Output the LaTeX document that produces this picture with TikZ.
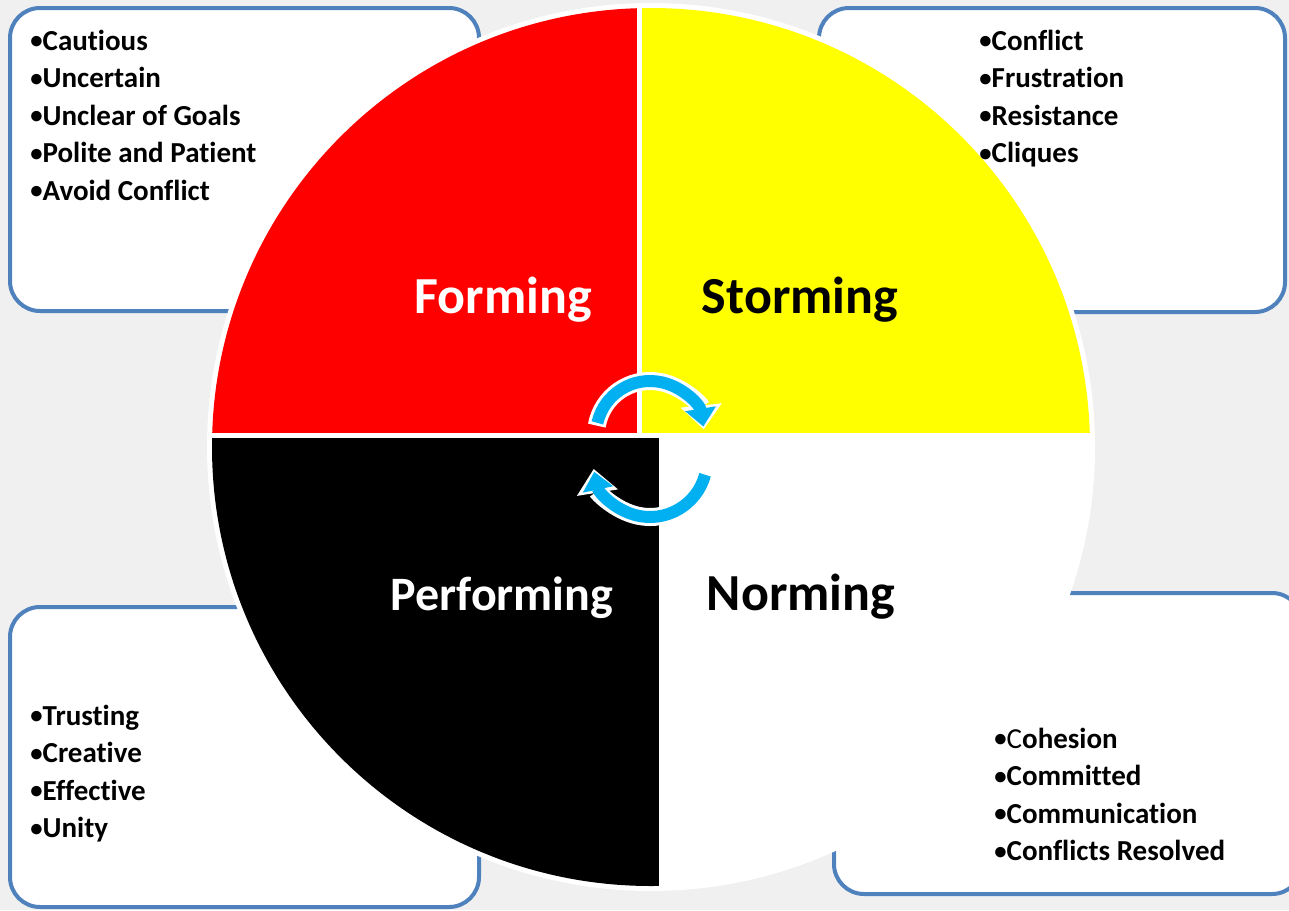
\documentclass[tikz,border=0pt]{standalone}
\usepackage{fontspec}
\setmainfont{Carlito}[Ligatures=NoCommon]
\usetikzlibrary{arrows.meta}

\definecolor{pagegray}{HTML}{F0F0F0}
\definecolor{boxblue}{HTML}{4F81BD}
\definecolor{cycleblue}{HTML}{00B0F0}
\definecolor{formred}{HTML}{FF0000}
\definecolor{stormyellow}{HTML}{FFFF00}

\newcommand\traitdot{\raisebox{0.04em}{\scalebox{0.85}{•}}}

\tikzset{
	notebox/.style={draw=boxblue, line width=2pt, fill=white, rounded corners=15pt},
	stage/.style={font=\fontsize{26}{30}\selectfont\bfseries, anchor=base, inner sep=0pt},
	trait/.style={font=\fontsize{14.5}{18}\selectfont\bfseries, anchor=base west, inner sep=0pt},
	cyclearrow/.style={cycleblue, line width=6pt, -{Triangle[length=9pt,width=15pt]}},
	cycleedge/.style={white, line width=9pt, -{Triangle[length=12pt,width=20pt]}}
}

\begin{document}
\begin{tikzpicture}[x=0.5pt, y=-0.5pt]
	\fill[pagegray] (0,0) rectangle (1289,910);
	\useasboundingbox (0,0) rectangle (1289,910);
	
	% boxes sit behind the wheel
	\draw[notebox] (10,8) rectangle (479,311);
	\draw[notebox] (819,8) rectangle (1285,312);
	\draw[notebox] (10,607) rectangle (479,907);
	\draw[notebox] (834,593) rectangle (1302,894);
	
	% wheel with white rim and white gaps
	\fill[white] (651,447) circle[radius=444];
	\begin{scope}
		\clip (651,447) circle[radius=439];
		\fill[formred] (200,0) rectangle (637,433);
		\fill[stormyellow] (642,0) rectangle (1100,433);
		\fill[black] (200,438) rectangle (659,900);
	\end{scope}
	
	\node[stage, white] (forming) at (503,313) {Forming};
	\node[stage] (storming) at (800,313) {Storming};
	\node[stage, white, font=\fontsize{24}{28}\selectfont\bfseries] (performing) at (502,610) {Performing};
	\node[stage] (norming) at (801,610) {Norming};
	
	% cycle arrows
	\draw[cycleedge] (650,435) ++(190:54) arc[start angle=190, end angle=354, radius=54];
	\draw[cyclearrow] (650,435) ++(193:54) arc[start angle=193, end angle=351, radius=54];
	\draw[cycleedge] (650,460) ++(12:57) arc[start angle=12, end angle=171, radius=57];
	\draw[cyclearrow] (650,460) ++(15:57) arc[start angle=15, end angle=168, radius=57];
	
	% traits
	\foreach \t [count=\i from 0] in {Cautious, Uncertain, Unclear of Goals, Polite and Patient, Avoid Conflict}
		\node[trait] (fm-\i) at (30,50+37.5*\i) {\traitdot\t};
	\foreach \t [count=\i from 0] in {Conflict, Frustration, Resistance, Cliques}
		\node[trait] (st-\i) at (979,50+37.5*\i) {\traitdot\t};
	\foreach \t [count=\i from 0] in {Trusting, Creative, Effective, Unity}
		\node[trait] (pf-\i) at (30,725+37.5*\i) {\traitdot\t};
	\foreach \t [count=\i from 0] in {{\textmd{C}ohesion}, Committed, Communication, Conflicts Resolved}
		\node[trait] (nm-\i) at (994,748+37.5*\i) {\traitdot\t};
\end{tikzpicture}
\end{document}
